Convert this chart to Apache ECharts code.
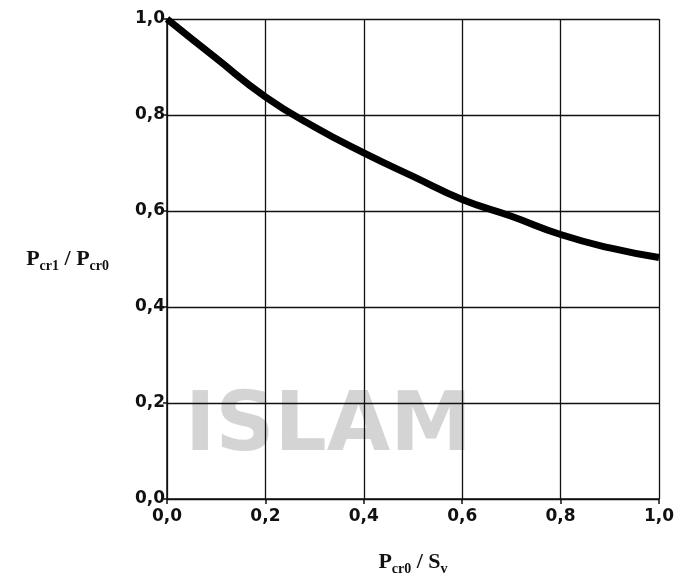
<!DOCTYPE html>
<html>
<head>
<meta charset="utf-8">
<script src="https://cdn.jsdelivr.net/npm/echarts@6/dist/echarts.min.js"></script>
<style>
  html, body { margin: 0; padding: 0; background: #fff; }
  #chart { width: 680px; height: 581px; }
</style>
</head>
<body>
<div id="chart"></div>
<script>
// ratio Pcr0 / Sv on the x axis
var xValues = [0.0, 0.1, 0.2, 0.3, 0.4, 0.5, 0.6, 0.7, 0.8, 0.9, 1.0];
// ratio Pcr1 / Pcr0
var yValues = [1.0, 0.918, 0.838, 0.775, 0.721, 0.672, 0.624, 0.589, 0.551, 0.523, 0.503];

var points = xValues.map(function (x, i) { return [x, yValues[i]]; });

function comma(v) {
    return v.toFixed(1).replace('.', ',');
}

var tickFont = { fontFamily: 'DejaVu Sans', fontWeight: 'bold', fontSize: 17, color: '#111' };
var serif = 'Liberation Serif';
var nameRich = {
    p: { fontFamily: serif, fontWeight: 'bold', fontSize: 22, color: '#111', verticalAlign: 'bottom' },
    s: { fontFamily: serif, fontWeight: 'bold', fontSize: 14, color: '#111', verticalAlign: 'bottom', padding: [0, 0, -3, 0] }
};

var myChart = echarts.init(document.getElementById('chart'));
myChart.setOption({
    backgroundColor: '#fff',
    animation: false,
    graphic: [
        {
            type: 'text',
            left: 185,
            top: 388,
            z: -10,
            style: {
                text: 'ISLAM',
                fontFamily: 'DejaVu Sans',
                fontWeight: 'bold',
                fontSize: 82,
                fill: '#d4d4d4'
            }
        }
    ],
    grid: { left: 167, right: 21, top: 19, bottom: 81 },
    xAxis: {
        type: 'value',
        min: 0,
        max: 1,
        interval: 0.2,
        name: '{p|P}{s|cr0}{p| / S}{s|v}',
        nameLocation: 'middle',
        nameGap: 52,
        nameTextStyle: { rich: nameRich },
        axisLine: { lineStyle: { color: '#111', width: 1.5 } },
        axisTick: { length: 5, lineStyle: { color: '#111', width: 1.5 } },
        axisLabel: Object.assign({ margin: 9, formatter: comma }, tickFont),
        splitLine: { lineStyle: { color: '#111', width: 1.3 } }
    },
    yAxis: {
        type: 'value',
        min: 0,
        max: 1,
        interval: 0.2,
        name: '{p|P}{s|cr1}{p| / P}{s|cr0}',
        nameLocation: 'middle',
        nameRotate: 0,
        nameGap: 58,
        nameTextStyle: { rich: nameRich },
        axisLine: { show: true, lineStyle: { color: '#111', width: 1.5 } },
        axisTick: { show: true, length: 4, lineStyle: { color: '#111', width: 1.5 } },
        axisLabel: Object.assign({ margin: 2, formatter: comma }, tickFont),
        splitLine: { lineStyle: { color: '#111', width: 1.3 } }
    },
    series: [
        {
            type: 'line',
            data: points,
            smooth: true,
            symbol: 'none',
            lineStyle: { color: '#000', width: 7 }
        }
    ]
});
</script>
</body>
</html>
